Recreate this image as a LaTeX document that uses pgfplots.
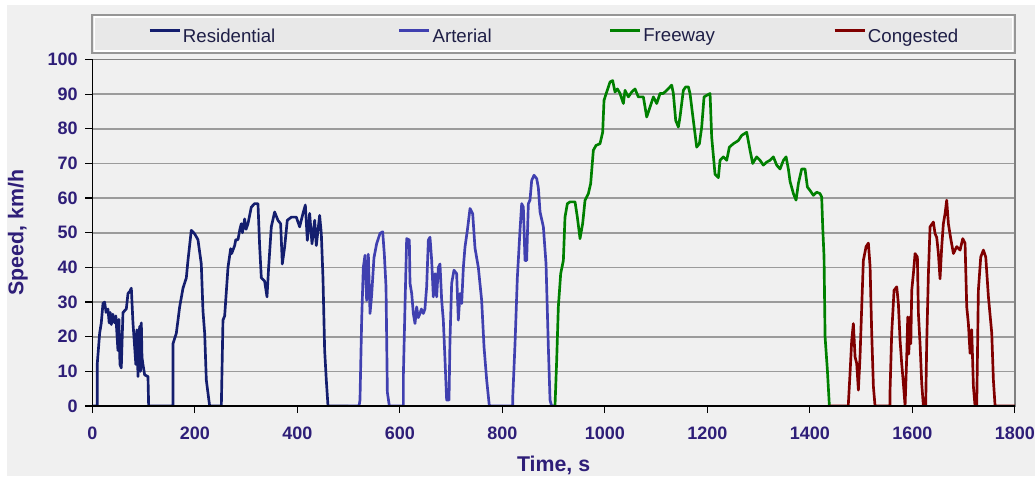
\documentclass[border=0pt]{standalone}
\usepackage{pgfplots}
\pgfplotsset{compat=1.18}
\usepackage{fontspec}
\setmainfont{Liberation Sans}
\definecolor{resid}{RGB}{20,30,110}
\definecolor{arter}{RGB}{64,64,176}
\definecolor{freew}{RGB}{0,128,0}
\definecolor{cong}{RGB}{128,0,0}
\definecolor{lab}{RGB}{46,30,120}
\definecolor{legtext}{RGB}{30,30,70}
\definecolor{bg}{RGB}{240,240,240}
\definecolor{gridc}{RGB}{155,155,155}
\definecolor{framec}{RGB}{128,128,128}
\definecolor{legfill}{RGB}{232,232,232}
\definecolor{legdraw}{RGB}{150,150,150}
\begin{document}
\begin{tikzpicture}
\useasboundingbox (-69.2pt,-52.5pt) rectangle (707pt,304.5pt);
\clip (-69.2pt,-52.5pt) rectangle (707pt,304.5pt);
\fill[white] (-69.2pt,-52.5pt) rectangle (707pt,304.5pt);
\fill[bg] (-64pt,-52.5pt) rectangle (707pt,300.75pt);
\draw[legdraw, line width=1.2pt, fill=legfill] (0,264.75pt) rectangle (691.9pt,293.25pt);
\draw[white, line width=0.8pt] (1.5pt,266.25pt) rectangle (690.4pt,291.75pt);
\begin{axis}[
  width=691.9pt, height=259.9pt, scale only axis,
  xmin=0, xmax=1800, ymin=0, ymax=100,
  xtick={0,200,...,1800}, ytick={0,10,...,100},
  tick pos=left, tick align=outside,
  major tick length=5.25pt,
  tick style={black, line width=0.9pt},
  ymajorgrids, major grid style={gridc, line width=1.2pt},
  axis background/.style={fill=bg},
  axis line style={framec, line width=1pt},
  /pgf/number format/assume math mode=true,
  /pgf/number format/set thousands separator={},
  ticklabel style={font=\bfseries\fontsize{13.5}{15}\selectfont, text=lab},
  xticklabel style={yshift=-7pt},
  yticklabel style={xshift=-2.25pt},
  xlabel={Time, s}, ylabel={Speed, km/h},
  label style={font=\bfseries\fontsize{16}{18}\selectfont, text=lab},
  xlabel style={at={(axis description cs:0.5,-0.143)}, anchor=north, inner sep=0pt},
  ylabel style={at={(axis description cs:-0.0806,0.5)}, anchor=center, inner sep=0pt},
  legend columns=4,
  legend cell align=left,
  legend style={at={(axis description cs:0,1)}, anchor=west, xshift=41.8pt, yshift=17.2pt,
    draw=none, fill=none, inner sep=0pt, column sep=0pt,
    nodes={inner sep=0pt}, font=\fontsize{14}{16}\selectfont, text=legtext},
  legend image code/.code={\draw[#1] (0pt,4.3pt) -- (22.5pt,4.3pt);},
  after end axis/.code={\draw[black, line width=1.1pt] (rel axis cs:0,1) -- (rel axis cs:0,0) -- (rel axis cs:1,0);},
]
\addplot[resid, line width=2pt, line join=round] coordinates {
(0,0) (9.8,0) (9.8,12.3) (14.4,21) (17.6,24) (20.9,29.6) (24.1,30) (27,27) (30.6,28)
(33,24) (35,27) (37.1,23.5) (40,26.5) (43.6,24) (46,26) (50.1,16) (52,25) (54,12) (56.6,11)
(59.9,27) (66.4,28) (69.7,32.5) (73,33) (76.2,34) (79.4,24) (82.7,17) (85,12) (87,22) (89.2,8.5)
(92.4,23) (94,10) (95.7,24) (97,14) (98.9,12) (102.2,9) (108.7,8.5) (110,0)
(157.5,0) (157.5,18) (164,21) (170.5,28.6) (177,34) (183.5,37) (186.7,42) (193.2,50.7)
(199.7,49.7) (206.2,48) (212.7,41) (216,27.4) (219.3,21) (222.5,7.5) (229,0)
(251.8,0) (255,24.8) (258.3,26) (264.8,40) (270,45.4) (272,44) (277.8,46.3) (280,48) (284.3,48)
(288,51) (290.8,52.6) (293,50) (297.3,54) (300,51) (303.8,52.6) (310.3,57.4) (316.8,58.4)
(323.3,58.4) (326.6,46) (329.8,37) (336.3,36) (340.9,31.5) (344.1,40) (349.3,51.7) (355.8,56)
(362.3,53.6) (367.5,52.6) (370.8,41) (375.4,46) (380.5,53.6) (388.4,54.5) (398.1,54.5)
(404.6,51.7) (411.1,55.6) (415.7,58) (419.6,47.8) (424.1,55.6) (428.7,46.8) (433.9,53.6)
(437.1,46.3) (443.6,55) (446.9,49.7) (450.1,37) (453.4,16) (456.6,7.5) (459.9,0) (500,0)
};
\addlegendentry{\makebox[162.75pt][l]{\hspace{1.5pt}Residential}}
\addplot[arter, line width=2pt, line join=round] coordinates {
(500,0) (520.5,0) (522.3,1.7) (525.6,24.8) (528.8,40) (532.1,43.5) (535.3,30.5) (538.6,43.8)
(541.9,26.7) (545.1,32) (549.6,42.8) (554.9,46.9) (561.4,49.8) (566.6,50.3) (569.8,43.8)
(573.1,34.4) (575.7,4) (579.6,0)
(606.9,0) (606.9,8.5) (610.1,28.6) (613.4,48.3) (618.6,47.9) (619.9,35.4) (623.2,32.5)
(626.4,26.7) (629.7,23.8) (632.9,28.6) (636,25.5) (639.4,26.7) (642,28) (645.9,26.7) (649,28)
(652.4,34.4) (655.7,47.9) (658.9,48.7) (662.2,42) (665.4,31.5) (668.7,38.2) (671.9,31.5)
(675.2,40) (678.4,41) (681.7,30.5) (684.9,24.8) (688.2,13.3) (691.4,1.7) (696,1.7) (697.9,19)
(701.2,35.4) (705.7,39.2) (710.9,38.2) (714.2,24.8) (717.5,32.5) (720.7,29.6) (724,40)
(727.2,45.9) (731.8,50.7) (737,57) (742.2,55.5) (746.7,45.6) (753.2,40) (759.7,30.5)
(764.3,17.1) (769.5,7.5) (774.7,0)
(820.2,0) (820.2,2) (824.8,18) (829.3,37) (834.5,50.7) (837.8,58.4) (841,57.4) (844.3,42)
(847.5,42) (850.8,58.4) (854,59.4) (857.3,65.1) (861.9,66.6) (867.1,65.6) (870.3,63)
(873.6,56) (880.1,51.7) (885.3,41) (889.8,17.1) (893.1,1.7) (896.3,0) (902,0)
};
\addlegendentry{\makebox[133.5pt][l]{\hspace{1.5pt}Arterial}}
\addplot[freew, line width=2pt, line join=round] coordinates {
(902.8,0) (906.1,13.3) (909.3,28.6) (913.9,38.2) (919.1,42) (922.3,54.5) (926.9,58.4)
(932.1,58.9) (941.9,58.9) (946.4,54.5) (951.6,48.3) (956.8,52.7) (961.4,59.4) (967.9,61.3)
(972.4,64.2) (977.6,73.8) (982.8,75.2) (990.6,75.7) (995.8,79) (998.4,88.2) (1003.6,90.6)
(1010.1,93.5) (1015.3,93.9) (1019.9,90.6) (1024.5,91.5) (1029.7,90.2) (1036.2,87.3)
(1039.4,91.1) (1045.9,89.2) (1052.4,90.6) (1058.9,91.5) (1065.4,89.2) (1075.2,89.2)
(1081.7,83.4) (1088.2,86.3) (1094.7,89.2) (1101.2,87.3) (1107.7,90.2) (1114.2,90.2)
(1120.7,91.1) (1130.5,92.6) (1133.7,90.2) (1138.3,82.4) (1143.5,80.5) (1146.7,83.4)
(1153.2,91.1) (1157.8,92.1) (1163,92.1) (1166.2,90.2) (1172.7,82.4) (1179.2,74.7)
(1184.5,75.7) (1189,80.5) (1193.6,89.2) (1205.3,90.2) (1208.5,77.6) (1215,66.9) (1221.5,65.9)
(1224.8,70.9) (1231.3,71.9) (1237.8,70.9) (1243,74.7) (1250.8,75.7) (1260.5,76.6)
(1267.1,78.1) (1276.8,79) (1283.3,73.8) (1288.5,70) (1296.3,71.9) (1302.8,70.9) (1309.3,69.5)
(1315.8,70.4) (1322.3,70.9) (1328.8,71.9) (1335.3,69.5) (1341.9,68.4) (1348.4,70.9)
(1353.6,71.9) (1358.1,68.4) (1361.4,64.8) (1367.9,61.3) (1373.1,59.4) (1377.6,64.2)
(1384.1,68.4) (1390.6,68.4) (1395.2,63.2) (1400.4,62.2) (1406.9,60.8) (1413.4,61.7)
(1419.9,61.3) (1423.1,60.3) (1425.1,51.7) (1427.7,43) (1429.7,20) (1434.2,10.4) (1438.1,0)
(1440,0)
};
\addlegendentry{\makebox[144pt][l]{\hspace{1.5pt}Freeway}}
\addplot[cong, line width=2pt, line join=round] coordinates {
(1439,0) (1475.2,0) (1475.2,0.8) (1478.4,9.4) (1481.7,19) (1484.9,23.8) (1488.2,14.2)
(1491.4,12.3) (1494.7,4.6) (1497.9,14.2) (1501.2,28.6) (1504.4,42) (1509.7,46) (1514.2,47)
(1517.5,40.3) (1520.7,21) (1524,5.6) (1527.2,0)
(1556.5,0) (1556.5,4.6) (1559.7,21) (1564.3,33.4) (1569.5,34.4) (1572.7,29.6) (1576,19)
(1579.2,12.3) (1582.5,6.5) (1585.8,0) (1589,14.2) (1591,25.7) (1593,15) (1595.5,25.7)
(1597,18) (1598.8,33.4) (1602,38.2) (1605.3,44) (1609.8,43) (1611.8,26.7) (1615,18)
(1618.3,6.5) (1621.5,0) (1626,0) (1628,18) (1631.3,38.2) (1634.5,51.7) (1641,53.1)
(1644.3,49.7) (1647.5,48.7) (1650.8,44) (1654,36.7) (1657.3,46) (1660.5,52.6) (1663.8,55.5)
(1667,59.4) (1670.3,52.6) (1674.9,48.3) (1680.1,44) (1686.6,46) (1693.1,45) (1698.3,48.3)
(1702.8,47) (1706.1,28.6) (1709.3,23.8) (1712.6,15.2) (1715.8,22) (1719.1,5.6) (1722.3,0)
(1725.6,0) (1728.8,33.4) (1733.4,43) (1738.6,45) (1743.2,43) (1748.4,31.5) (1754.9,21)
(1758.1,7.5) (1761.4,0) (1800,0)
};
\addlegendentry{\makebox[75pt][l]{\hspace{1.5pt}Congested}}
\end{axis}
\end{tikzpicture}
\end{document}
